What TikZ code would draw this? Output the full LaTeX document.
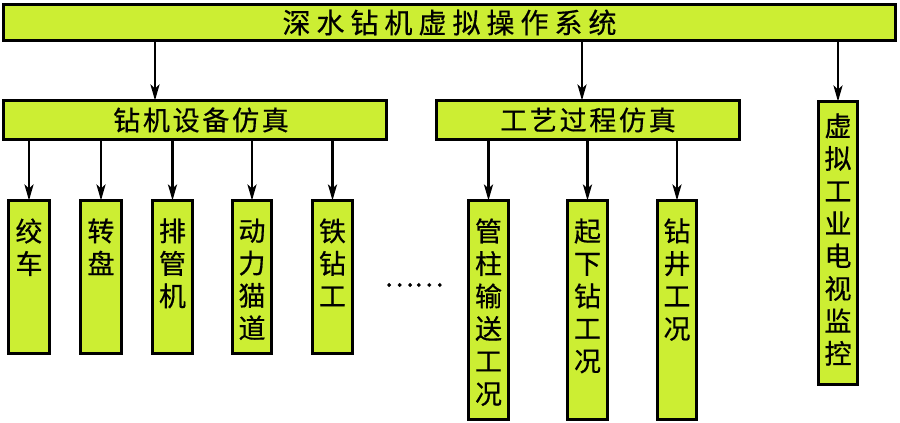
\documentclass[tikz,border=0pt]{standalone}
\usepackage{fontspec}
\setmainfont{Noto Sans CJK SC}[FakeBold=0.5]
\usetikzlibrary{arrows.meta}
\definecolor{limefill}{RGB}{204,238,51}
\tikzset{
  box/.style={draw=black, line width=3.2pt, fill=limefill, inner sep=0pt, outer sep=0pt},
  arr/.style={line width=2.6pt, -{Stealth[length=16pt,width=9pt,inset=4pt]}},
}
\newcommand{\gp}{\hspace{6pt}}
\newcommand{\hg}{\hspace{2.7pt}}
\newcommand{\vlab}[3]{\parbox[c][#1][t]{36pt}{\centering\fontsize{27}{32.5}\selectfont\vspace*{#2}#3\par}}
\begin{document}
\begin{tikzpicture}[x=1pt,y=-1pt]
\useasboundingbox (0,0) rectangle (900,423);
% level 0
\node[box, minimum width=892pt, minimum height=36pt] (top) at (449.5,22.5)
  {\fontsize{28}{28}\selectfont 深\gp 水\gp 钻\gp 机\gp 虚\gp 拟\gp 操\gp 作\gp 系\gp 统\hspace{16pt}};
% level 1
\node[box, minimum width=383pt, minimum height=39pt] (B1) at (195,120)
  {\fontsize{27}{27}\selectfont\hspace{12pt}钻\hg 机\hg 设\hg 备\hg 仿\hg 真};
\node[box, minimum width=303pt, minimum height=39pt] (B2) at (588,120)
  {\fontsize{27}{27}\selectfont 工\hg 艺\hg 过\hg 程\hg 仿\hg 真\hspace{8pt}};
\node[box, minimum width=39pt, minimum height=283pt] (B3) at (838,243)
  {\vlab{283pt}{12pt}{虚\\拟\\工\\业\\电\\视\\监\\控}};
% level 2, equipment
\node[box, minimum width=41pt, minimum height=153pt] (c1) at (29,277) {\vlab{153pt}{18pt}{绞\\车}};
\node[box, minimum width=41pt, minimum height=153pt] (c2) at (101,277) {\vlab{153pt}{18pt}{转\\盘}};
\node[box, minimum width=40pt, minimum height=153pt] (c3) at (172.5,277) {\vlab{153pt}{18pt}{排\\管\\机}};
\node[box, minimum width=39pt, minimum height=153pt] (c4) at (252,277) {\vlab{153pt}{18pt}{动\\力\\猫\\道}};
\node[box, minimum width=40pt, minimum height=153pt] (c5) at (332.5,277) {\vlab{153pt}{18pt}{铁\\钻\\工}};
\node[inner sep=0pt] (dots) at (414,285) {\fontsize{28}{28}\selectfont ……};
% level 2, process
\node[box, minimum width=40pt, minimum height=219pt] (p1) at (488.5,310) {\vlab{219pt}{18pt}{管\\柱\\输\\送\\工\\况}};
\node[box, minimum width=40pt, minimum height=219pt] (p2) at (587.5,310) {\vlab{219pt}{18pt}{起\\下\\钻\\工\\况}};
\node[box, minimum width=39pt, minimum height=219pt] (p3) at (677,310) {\vlab{219pt}{18pt}{钻\\井\\工\\况}};
% connectors
\coordinate (a1) at (155,0);
\coordinate (a2) at (582,0);
\draw[arr] (top.south -| a1) -- (B1.north -| a1);
\draw[arr] (top.south -| a2) -- (B2.north -| a2);
\draw[arr] (top.south -| B3) -- (B3.north);
\foreach \n in {c1,c2,c3,c4,c5}{\draw[arr] (B1.south -| \n) -- (\n.north);}
\foreach \n in {p1,p2,p3}{\draw[arr] (B2.south -| \n) -- (\n.north);}
\end{tikzpicture}
\end{document}
